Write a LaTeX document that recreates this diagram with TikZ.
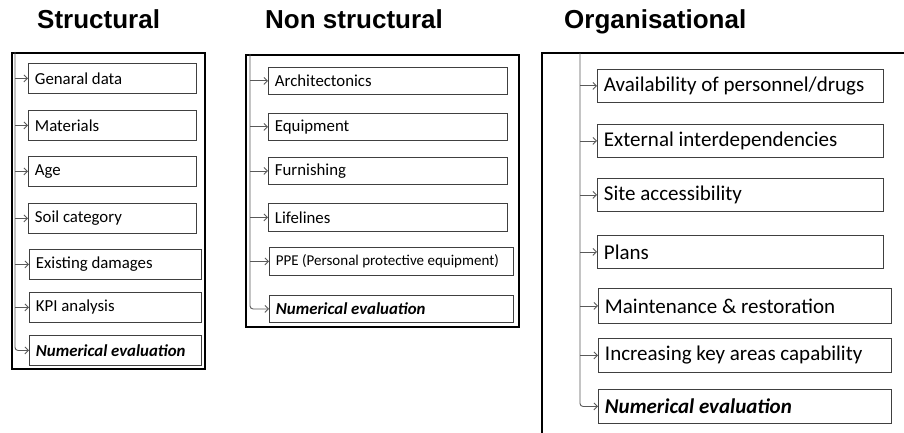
\documentclass[tikz,border=0pt]{standalone}
\usepackage{fontspec}
\setmainfont{Carlito}
\newfontfamily\titlefont{Liberation Sans}
\usetikzlibrary{arrows.meta}
\newcommand{\numev}{\textbf{\textit{Numerical evaluation}}}
\begin{document}
\begin{tikzpicture}[x=1pt,y=-1pt,
  ttl/.style={font=\titlefont\bfseries\fontsize{26}{28}\selectfont, anchor=base west, inner sep=0},
  frm/.style={draw=black, line width=1.6pt, anchor=north west, inner sep=0},
  box/.style={draw=black!75, line width=0.9pt, anchor=north west, inner xsep=6.5pt, inner ysep=0pt, align=flush left},
  sbox/.style={box, font=\fontsize{16.8}{18}\selectfont, minimum height=30pt},
  obox/.style={box, font=\fontsize{21}{23}\selectfont, minimum height=33pt},
  conn/.style={draw=black!65, line width=0.9pt, -{Straight Barb[length=3.5pt,width=7pt]}},
  lconn/.style={conn, rounded corners=3pt},
]
\useasboundingbox (0,0) rectangle (904,433);

% titles
\node[ttl] (t1) at (37,29) {Structural};
\node[ttl] (t2) at (265,29) {Non structural};
\node[ttl] (t3) at (564,29) {Organisational};

% ---------- Structural ----------
\node[frm, minimum width=193pt, minimum height=316pt] (F1) at (11,52) {};
\coordinate (sv) at (15,52);
\node[sbox, text width=155pt] (s1) at (28,63) {Genaral data};
\node[sbox, text width=155pt] (s2) at (28,110) {Materials};
\node[sbox, text width=155pt] (s3) at (28,156) {Age};
\node[sbox, text width=155pt] (s4) at (28,203) {Soil category};
\node[sbox, text width=159pt] (s5) at (29,249) {Existing damages};
\node[sbox, text width=159pt] (s6) at (29,292) {KPI analysis};
\node[sbox, text width=159pt] (s7) at (29,335) {\numev};
\draw[lconn] (sv) |- (s7.west);
\foreach \n in {s1,s2,s3,s4,s5,s6} \draw[conn] (sv |- \n.west) -- (\n.west);

% ---------- Non structural ----------
\node[frm, minimum width=273pt, minimum height=272pt] (F2) at (245,54) {};
\coordinate (nv) at (250,54);
\node[sbox, text width=226pt, minimum height=27pt] (n1) at (268,67) {Architectonics};
\node[sbox, text width=226pt, minimum height=27pt] (n2) at (268,113) {Equipment};
\node[sbox, text width=226pt, minimum height=27pt] (n3) at (268,157) {Furnishing};
\node[sbox, text width=226pt, minimum height=28pt] (n4) at (268,203) {Lifelines};
\node[box, font=\fontsize{15}{16}\selectfont, text width=231pt, minimum height=28pt] (n5) at (269,247) {PPE (Personal protective equipment)};
\node[sbox, text width=231pt, minimum height=27pt] (n6) at (269,295) {\numev};
\draw[lconn] (nv) |- (n6.west);
\foreach \n in {n1,n2,n3,n4,n5} \draw[conn] (nv |- \n.west) -- (\n.west);

% ---------- Organisational ----------
\coordinate (ob) at (542,433);
\coordinate (otl) at (542,53);
\coordinate (otr) at (904,53);
\draw[line width=1.6pt] (ob) -- (otl) -- (otr);
\coordinate (ov) at (580,53);
\node[obox, text width=273pt] (o1) at (597,69) {Availability of personnel/drugs};
\node[obox, text width=273pt] (o2) at (597,124) {External interdependencies};
\node[obox, text width=273pt] (o3) at (597,178) {Site accessibility};
\node[obox, text width=273pt] (o4) at (597,235) {Plans};
\node[obox, text width=280pt, minimum height=35pt] (o5) at (598,288) {Maintenance \& restoration};
\node[obox, text width=280pt, minimum height=34pt] (o6) at (598,338) {Increasing key areas capability};
\node[obox, text width=280pt, minimum height=34pt] (o7) at (598,389) {\numev};
\draw[lconn] (ov) |- (o7.west);
\foreach \n in {o1,o2,o3,o4,o5,o6} \draw[conn] (ov |- \n.west) -- (\n.west);
\end{tikzpicture}
\end{document}
